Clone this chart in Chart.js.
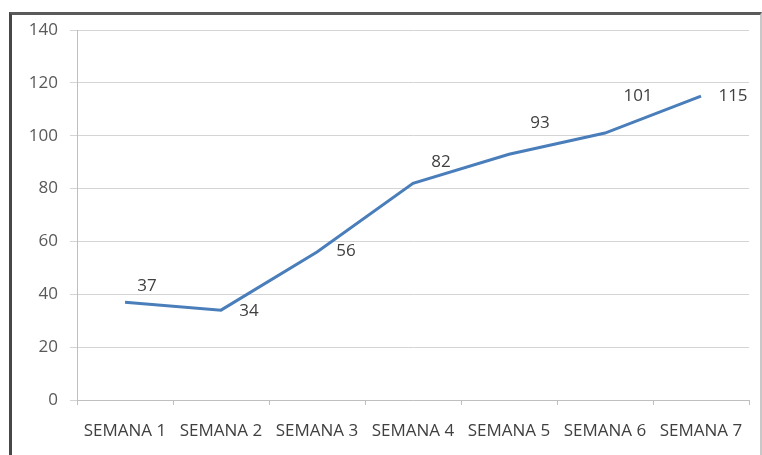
<!DOCTYPE html>
<html>
<head>
<meta charset="utf-8">
<script src="https://cdn.jsdelivr.net/npm/chart.js@4"></script>
<style>
    html, body { margin: 0; padding: 0; background: #fff; }
    #wrap { position: relative; width: 762px; height: 455px; overflow: hidden; }
    #frame {
        position: absolute; left: 9px; top: 12px; width: 748px; height: 470px;
        border-left: 3px solid #474747; border-top: 3px solid #5a5a5a; border-right: 2px solid #c8c8c8;
    }
    canvas { position: absolute; left: 0; top: 0; }
</style>
</head>
<body>
<div id="wrap">
    <div id="frame"></div>
    <canvas id="chartCanvas" width="762" height="455"></canvas>
</div>
<script>
const weeks = ["SEMANA 1", "SEMANA 2", "SEMANA 3", "SEMANA 4", "SEMANA 5", "SEMANA 6", "SEMANA 7"];
const values = [37, 34, 56, 82, 93, 101, 115];
const yTicks = [0, 20, 40, 60, 80, 100, 120, 140];

// where each value label sits relative to its point (dx, dy in px)
const labelOffsets = [[22, -16], [28, 1], [29, -1], [28, -21], [31, -31], [33, -37], [32, 0]];

const pointLabels = {
    id: "pointLabels",
    afterDatasetsDraw(chart) {
        const ctx = chart.ctx;
        const meta = chart.getDatasetMeta(0);
        ctx.save();
        ctx.font = "17px 'Open Sans'";
        ctx.fillStyle = "#404040";
        ctx.textAlign = "center";
        ctx.textBaseline = "middle";
        meta.data.forEach((pt, i) => {
            const off = labelOffsets[i];
            ctx.fillText(String(values[i]), pt.x + off[0], pt.y + off[1]);
        });
        ctx.restore();
    }
};

const ctx = document.getElementById("chartCanvas").getContext("2d");
const myChart = new Chart(ctx, {
    type: "line",
    data: {
        labels: weeks,
        datasets: [{
            data: values,
            borderColor: "#4a7ebb",
            borderWidth: 3,
            pointRadius: 0,
            tension: 0,
            fill: false
        }]
    },
    options: {
        responsive: false,
        animation: false,
        layout: { padding: { top: 30, right: 13, left: 0, bottom: 0 } },
        plugins: { legend: { display: false }, tooltip: { enabled: false } },
        scales: {
            x: {
                offset: true,
                grid: { offset: true, drawOnChartArea: false, tickLength: 5, color: "#bfbfbf" },
                border: { color: "#bfbfbf" },
                ticks: { color: "#404040", font: { family: "Open Sans", size: 17 }, padding: 16, maxRotation: 0, autoSkip: false },
                afterFit: scale => { scale.height = 55; }
            },
            y: {
                min: 0,
                max: 140,
                afterBuildTicks: scale => { scale.ticks = yTicks.map(v => ({ value: v })); },
                grid: { tickLength: 7, color: "#d4d4d4" },
                border: { color: "#bfbfbf" },
                ticks: { color: "#595959", font: { family: "Open Sans", size: 17 }, padding: 12 },
                afterFit: scale => { scale.width = 77; }
            }
        }
    },
    plugins: [pointLabels]
});
</script>
</body>
</html>
